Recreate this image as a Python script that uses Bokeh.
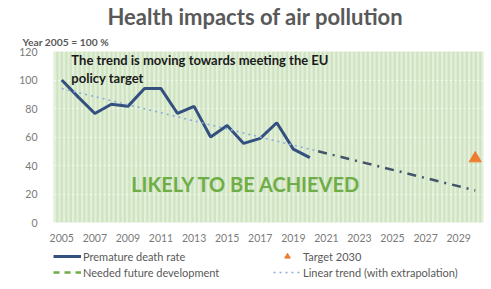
from bokeh.plotting import figure
from bokeh.layouts import column
from bokeh.models import (Label, Legend, LegendItem, FixedTicker, Range1d,
                          BoxAnnotation, Title)
from bokeh.embed import file_html
from bokeh.resources import INLINE

# ---- data ----
years = [2005, 2006, 2007, 2008, 2009, 2010, 2011, 2012, 2013, 2014,
         2015, 2016, 2017, 2018, 2019, 2020]
death_rate = [100, 88, 76.5, 83, 81.5, 94, 94, 76.5, 81.5, 60,
              68, 55.5, 59, 70, 51.5, 45.5]
trend_years = [2005, 2020.5]
trend_vals = [94, 50]
extrap_years = [2020.5, 2030]
extrap_vals = [50, 22.5]
target_year = [2030]
target_val = [45]
x_ticks = [2005, 2007, 2009, 2011, 2013, 2015, 2017, 2019, 2021, 2023, 2025, 2027, 2029]
y_ticks = [0, 20, 40, 60, 80, 100, 120]

FONT = "Lato"
GREY = "#595959"
W = 487

STY_DEATH = dict(line_color="#34507f", line_width=3)
STY_TREND = dict(line_color="#8eaadb", line_width=1.6, line_dash="dotted")
STY_NEED = dict(line_color="#70ad47", line_width=2.5, line_dash="6 5")
STY_TARGET = dict(marker="triangle", size=12, fill_color="#ed7d31", line_color="#ed7d31")

# ---- main chart ----
p = figure(width=W, height=244, output_backend="svg", toolbar_location=None,
           x_range=Range1d(2004.5, 2030.5), y_range=Range1d(0, 120),
           min_border_left=53, min_border_right=4, min_border_top=48,
           min_border_bottom=20)
p.outline_line_color = None
p.background_fill_color = "#e4f0dc"
p.add_layout(BoxAnnotation(fill_alpha=0, line_alpha=0,
                           hatch_pattern="vertical_line", hatch_color="#cde3bf",
                           hatch_scale=4.5, hatch_weight=2.2, level="underlay"))

p.title = Title(text="Health impacts of air pollution", align="left", offset=54,
                text_font=FONT, text_font_style="bold", text_font_size="22px",
                text_color=GREY, standoff=0)
p.add_layout(Title(text="Year 2005 = 100 %", align="left", offset=-31,
                   text_font=FONT, text_font_style="bold", text_font_size="10.3px",
                   text_color=GREY, standoff=8), "above")

p.xgrid.grid_line_color = None
p.ygrid.grid_line_color = "#f7fbf4"
p.ygrid.grid_line_width = 1.2
p.ygrid.ticker = FixedTicker(ticks=y_ticks)

p.yaxis.ticker = FixedTicker(ticks=y_ticks)
p.xaxis.ticker = FixedTicker(ticks=x_ticks)
for ax in (p.xaxis[0], p.yaxis[0]):
    ax.axis_line_color = None
    ax.major_tick_line_color = None
    ax.minor_tick_line_color = None
    ax.major_label_text_font = FONT
    ax.major_label_text_font_size = "10.5px"
    ax.major_label_text_color = "#7a7a7a"
p.yaxis.major_label_standoff = 10
p.xaxis.major_label_standoff = 5

p.line(years, death_rate, **STY_DEATH)
p.line(trend_years, trend_vals, **STY_TREND)
p.line(extrap_years, extrap_vals, line_color="#44546a", line_width=2.5,
       line_dash="9 6 2 6")
p.scatter(target_year, target_val, **STY_TARGET)

p.add_layout(Label(x=2005.58, y=113.7, text="The trend is moving towards meeting the EU",
                   text_font=FONT, text_font_style="bold", text_font_size="13px",
                   text_color="#1a1a1a", text_align="left", text_baseline="middle"))
p.add_layout(Label(x=2005.58, y=101.6, text="policy target",
                   text_font=FONT, text_font_style="bold", text_font_size="13px",
                   text_color="#1a1a1a", text_align="left", text_baseline="middle"))
p.add_layout(Label(x=2016.15, y=27.3, text="LIKELY TO BE ACHIEVED",
                   text_font=FONT, text_font_style="bold", text_font_size="20px",
                   text_color="#70ad47", text_align="center", text_baseline="middle"))

# ---- legend strip (same frame as the chart; series sit outside its view) ----
lg = figure(width=W, height=45, output_backend="svg", toolbar_location=None,
            x_axis_type=None, y_axis_type=None,
            x_range=Range1d(0, 1), y_range=Range1d(0, 1),
            min_border_left=53, min_border_right=4, min_border_top=0,
            min_border_bottom=0)
lg.outline_line_color = None
lg.xgrid.visible = False
lg.ygrid.visible = False
l_death = lg.line(years, death_rate, **STY_DEATH)
l_need = lg.line(extrap_years, extrap_vals, **STY_NEED)
l_target = lg.scatter(target_year, target_val, **STY_TARGET)
l_trend = lg.line(trend_years, trend_vals, **STY_TREND)
legend = Legend(items=[LegendItem(label="Premature death rate", renderers=[l_death]),
                       LegendItem(label="Needed future development", renderers=[l_need]),
                       LegendItem(label="Target 2030", renderers=[l_target]),
                       LegendItem(label="Linear trend (with extrapolation)", renderers=[l_trend])],
                ncols=2, location=(0, 10),
                background_fill_alpha=0, border_line_color=None,
                label_text_font=FONT, label_text_font_size="11px",
                label_text_color=GREY, glyph_width=28, glyph_height=14,
                label_height=14, label_width=188, label_standoff=2, spacing=2,
                padding=0, margin=0)
lg.add_layout(legend)

layout = column(p, lg, spacing=0)
open("out.html", "w").write(file_html(layout, INLINE))
